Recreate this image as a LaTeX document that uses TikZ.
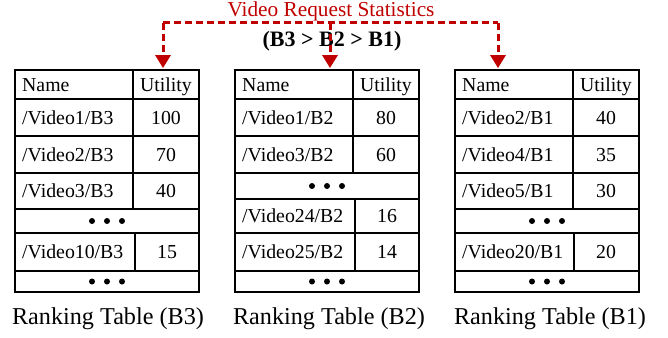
\documentclass[tikz,border=0pt]{standalone}
\usepackage{fontspec}
\setmainfont{Liberation Serif}
\usetikzlibrary{arrows.meta}
\definecolor{darkred}{RGB}{192,0,0}
\tikzset{
  tbox/.style={draw=black, line width=1.8pt, inner sep=0pt},
  grid/.style={line width=1.8pt},
  cell/.style={inner sep=0pt, anchor=base west, font=\fontsize{19.8}{21}\selectfont},
  val/.style={inner sep=0pt, anchor=base, font=\fontsize{19.8}{21}\selectfont},
  dot/.style={circle, fill=black, inner sep=0pt, minimum size=6pt},
  caption/.style={inner sep=0pt, anchor=base, font=\fontsize{24.2}{26}\selectfont},
  req/.style={darkred, line width=3pt, dash pattern=on 7pt off 4pt},
  reqarrow/.style={req, -{Triangle[width=15pt,length=13pt]}, shorten >=1pt},
}
\begin{document}
\begin{tikzpicture}[x=1pt,y=-1pt]
\useasboundingbox (0,0) rectangle (668,337);

% ---------- title ----------
\node[inner sep=0pt, anchor=base, text=darkred, font=\fontsize{21.3}{23}\selectfont] (title) at (331,17) {Video Request Statistics};
\node[inner sep=0pt, anchor=base, font=\bfseries\fontsize{22}{24}\selectfont] (order) at (332,47) {(B3 > B2 > B1)};

% ---------- table B3 ----------
\node[tbox, minimum width=184pt, minimum height=222pt] (t3) at (107,181) {};
\foreach \y in {99,136,173,209,233,271} \draw[grid] (t3.west |- 0,\y) -- (t3.east |- 0,\y);
\draw[grid] (133,70) -- (133,209);
\draw[grid] (135,233) -- (135,271);
\node[cell] (t3h1) at (22,91) {Name};
\node[val] (t3h2) at (166,91) {Utility};
\node[cell] (t3n1) at (22,124) {/Video1/B3};   \node[val] (t3v1) at (166,124) {100};
\node[cell] (t3n2) at (22,161) {/Video2/B3};   \node[val] (t3v2) at (166,161) {70};
\node[cell] (t3n3) at (22,197.5) {/Video3/B3}; \node[val] (t3v3) at (166,197.5) {40};
\node[dot] (t3d1a) at (92,221) {}; \node[dot] (t3d1b) at (107,221) {}; \node[dot] (t3d1c) at (122,221) {};
\node[cell] (t3n4) at (22,258.5) {/Video10/B3}; \node[val] (t3v4) at (167,258.5) {15};
\node[dot] (t3d2a) at (92,281.5) {}; \node[dot] (t3d2b) at (107,281.5) {}; \node[dot] (t3d2c) at (122,281.5) {};
\node[caption] (c3) at (108,324) {Ranking Table (B3)};

% ---------- table B2 ----------
\node[tbox, minimum width=184pt, minimum height=222pt] (t2) at (327,181) {};
\foreach \y in {99,136,173,199,233,271} \draw[grid] (t2.west |- 0,\y) -- (t2.east |- 0,\y);
\draw[grid] (353,70) -- (353,173);
\draw[grid] (355,199) -- (355,271);
\node[cell] (t2h1) at (242,91) {Name};
\node[val] (t2h2) at (386,91) {Utility};
\node[cell] (t2n1) at (242,124) {/Video1/B2};  \node[val] (t2v1) at (386,124) {80};
\node[cell] (t2n2) at (242,161) {/Video3/B2};  \node[val] (t2v2) at (386,161) {60};
\node[dot] (t2d1a) at (312,186) {}; \node[dot] (t2d1b) at (327,186) {}; \node[dot] (t2d1c) at (342,186) {};
\node[cell] (t2n3) at (242,222.5) {/Video24/B2}; \node[val] (t2v3) at (387,222.5) {16};
\node[cell] (t2n4) at (242,258.5) {/Video25/B2}; \node[val] (t2v4) at (387,258.5) {14};
\node[dot] (t2d2a) at (312,281.5) {}; \node[dot] (t2d2b) at (327,281.5) {}; \node[dot] (t2d2c) at (342,281.5) {};
\node[caption] (c2) at (329,324) {Ranking Table (B2)};

% ---------- table B1 ----------
\node[tbox, minimum width=184pt, minimum height=222pt] (t1) at (547,181) {};
\foreach \y in {99,136,173,209,233,271} \draw[grid] (t1.west |- 0,\y) -- (t1.east |- 0,\y);
\draw[grid] (573,70) -- (573,209);
\draw[grid] (574,233) -- (574,271);
\node[cell] (t1h1) at (462,91) {Name};
\node[val] (t1h2) at (606,91) {Utility};
\node[cell] (t1n1) at (462,124) {/Video2/B1};   \node[val] (t1v1) at (606,124) {40};
\node[cell] (t1n2) at (462,161) {/Video4/B1};   \node[val] (t1v2) at (606,161) {35};
\node[cell] (t1n3) at (462,197.5) {/Video5/B1}; \node[val] (t1v3) at (606,197.5) {30};
\node[dot] (t1d1a) at (532,221) {}; \node[dot] (t1d1b) at (547,221) {}; \node[dot] (t1d1c) at (562,221) {};
\node[cell] (t1n4) at (462,258.5) {/Video20/B1}; \node[val] (t1v4) at (606,258.5) {20};
\node[dot] (t1d2a) at (532,281.5) {}; \node[dot] (t1d2b) at (547,281.5) {}; \node[dot] (t1d2c) at (562,281.5) {};
\node[caption] (c1) at (550,324) {Ranking Table (B1)};

% ---------- request arrows ----------
\coordinate (L) at (163,23);
\coordinate (M) at (330,23);
\coordinate (R) at (498,23);
\draw[req] (L) -- (R);
\draw[reqarrow] (L) -- (L |- t3.north);
\draw[reqarrow] (M) -- (M |- t2.north);
\draw[reqarrow] (R) -- (R |- t1.north);
\end{tikzpicture}
\end{document}
